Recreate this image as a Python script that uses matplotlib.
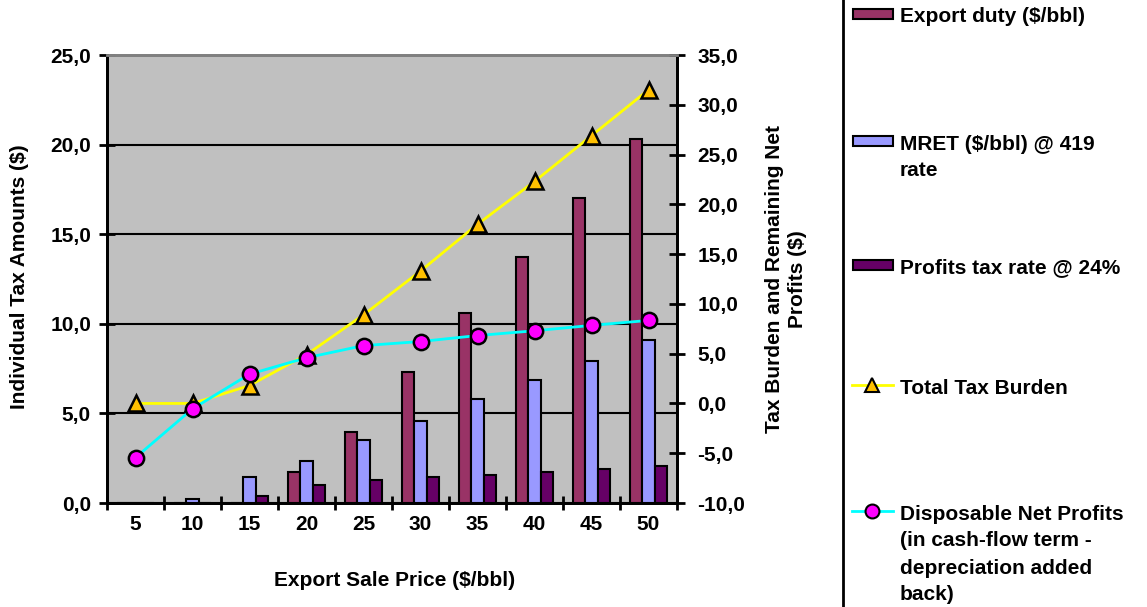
import numpy as np
import matplotlib
matplotlib.use('Agg')
import matplotlib.pyplot as plt
from matplotlib.ticker import FuncFormatter, MultipleLocator
from matplotlib.patches import Rectangle
from matplotlib.lines import Line2D

# data
prices = [5, 10, 15, 20, 25, 30, 35, 40, 45, 50]
export_duty = [0.0, 0.0, 0.0, 1.74, 3.98, 7.30, 10.58, 13.71, 17.00, 20.32]
mret = [0.0, 0.23, 1.44, 2.33, 3.53, 4.60, 5.78, 6.85, 7.90, 9.08]
profits_tax = [0.0, 0.0, 0.38, 1.01, 1.28, 1.43, 1.59, 1.73, 1.88, 2.04]
total_burden = [0.0, 0.0, 1.8, 4.9, 8.9, 13.3, 18.0, 22.3, 26.9, 31.5]
net_profits = [-5.44, -0.54, 2.94, 4.59, 5.81, 6.22, 6.82, 7.30, 7.84, 8.34]

labels = ['Export duty ($/bbl)', 'MRET ($/bbl) @ 419\nrate', 'Profits tax rate @ 24%',
          'Total Tax Burden',
          'Disposable Net Profits\n(in cash-flow term -\ndepreciation added\nback)']
c_export, c_mret, c_profit = '#993366', '#9999FF', '#660066'
c_total, c_total_mk = '#FFFF00', '#FFC000'
c_net, c_net_mk = '#00FFFF', '#FF00FF'

plt.rcParams['font.family'] = ['Liberation Sans', 'DejaVu Sans']
plt.rcParams['font.weight'] = 'bold'
FS = 15

W, H = 1147, 607
fig = plt.figure(figsize=(W/100, H/100), dpi=100)
L, R, T, B = 107, 677, 55, 503
ax = fig.add_axes([L/W, 1 - B/H, (R-L)/W, (B-T)/H])
ax2 = ax.twinx()
ax.set_zorder(1); ax2.set_zorder(2)
ax2.patch.set_visible(False)
ax.set_facecolor('#C0C0C0')

x = np.arange(len(prices))
bw = 0.22
ax.bar(x - bw, export_duty, bw, color=c_export, edgecolor='black', linewidth=1.5, zorder=3)
ax.bar(x, mret, bw, color=c_mret, edgecolor='black', linewidth=1.5, zorder=3)
ax.bar(x + bw, profits_tax, bw, color=c_profit, edgecolor='black', linewidth=1.5, zorder=3)

ax2.plot(x, total_burden, color=c_total, lw=2, marker='^', ms=12,
         mfc=c_total_mk, mec='black', mew=1.8, zorder=4)
ax2.plot(x, net_profits, color=c_net, lw=2, marker='o', ms=11,
         mfc=c_net_mk, mec='black', mew=1.8, zorder=5)

ax.set_xlim(-0.5, len(prices) - 0.5)
ax.set_ylim(0, 25)
ax2.set_ylim(-10, 35)
ax.yaxis.set_major_locator(MultipleLocator(5))
ax2.yaxis.set_major_locator(MultipleLocator(5))
comma = FuncFormatter(lambda v, p: ('%.1f' % v).replace('.', ','))
ax.yaxis.set_major_formatter(comma)
ax2.yaxis.set_major_formatter(comma)
ax.grid(axis='y', color='black', linewidth=1.5, zorder=0)
ax.set_axisbelow(True)

ax.set_xticks(x)
ax.set_xticklabels([str(p) for p in prices])
ax.set_xticks(np.arange(len(prices) + 1) - 0.5, minor=True)
ax.tick_params(axis='x', which='major', length=0, pad=9, labelsize=FS)
ax.tick_params(axis='x', which='minor', direction='inout', length=10, width=2)
ax.tick_params(axis='y', direction='inout', length=11, width=2, pad=6, labelsize=FS)
ax2.tick_params(axis='y', direction='inout', length=11, width=2, pad=9, labelsize=FS)

for a in (ax, ax2):
    for s in a.spines.values():
        s.set_linewidth(2)
        s.set_color('black')
    a.spines['top'].set_color('#808080')

fig.text(395/W, 1 - 580/H, 'Export Sale Price ($/bbl)', ha='center', va='center', fontsize=FS)
fig.text(20/W, 1 - 277/H, 'Individual Tax Amounts ($)', rotation=90,
         ha='center', va='center', fontsize=FS)
fig.text(786/W, 1 - 279/H, 'Tax Burden and Remaining Net\nProfits ($)', rotation=90,
         ha='center', va='center', fontsize=FS, linespacing=1.3, multialignment='center')

# legend panel, in pixel coordinates
lax = fig.add_axes([0, 0, 1, 1])
lax.set_xlim(0, W); lax.set_ylim(H, 0)
lax.axis('off')
lax.add_patch(Rectangle((843, -5), 400, H + 10, fill=False, edgecolor='black', linewidth=2))
rows = [17, 144, 268, 388, 514]
handles = [('bar', c_export), ('bar', c_mret), ('bar', c_profit),
           ('line', c_total, '^', c_total_mk), ('line', c_net, 'o', c_net_mk)]
for yy, lab, h in zip(rows, labels, handles):
    hy = yy - 3
    if h[0] == 'bar':
        lax.add_patch(Rectangle((853, hy - 5), 40, 10, facecolor=h[1], edgecolor='black', linewidth=1.5))
    else:
        lax.add_line(Line2D([852, 893], [hy, hy], color=h[1], lw=2))
        lax.add_line(Line2D([872], [hy], marker=h[2], ms=10, mfc=h[3], mec='black', mew=1.5))
    for i, line in enumerate(lab.split('\n')):
        lax.text(900, yy + i*27, line, ha='left', va='center', fontsize=FS)

fig.savefig('out.png', dpi=100)
